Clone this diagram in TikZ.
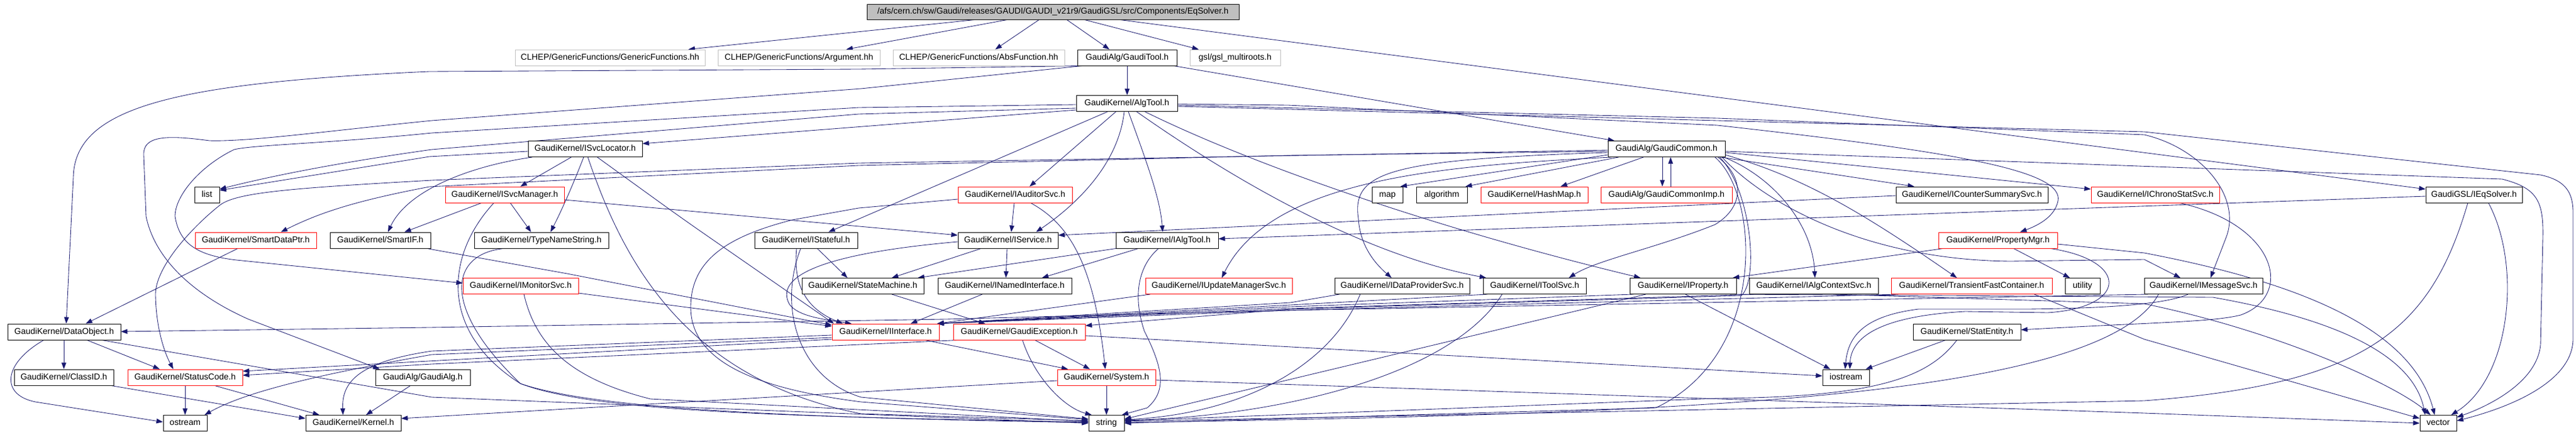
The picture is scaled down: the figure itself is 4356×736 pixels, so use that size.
\documentclass[tikz,border=0pt]{standalone}
\usepackage{fontspec}
\setmainfont{Liberation Sans}
\usetikzlibrary{arrows.meta}
\definecolor{edgec}{RGB}{25,25,112}
\definecolor{graybd}{RGB}{191,191,191}
\newcommand{\gnodefont}{\fontsize{14.4pt}{17pt}\selectfont}
\pgfdeclarelayer{bg}
\pgfsetlayers{bg,main}
\begin{document}
\begin{tikzpicture}[x=1pt,y=-1pt,
  box/.style={draw=black, fill=white, line width=0.9pt, minimum height=27pt, inner xsep=3pt, inner ysep=0pt, text height=10.5pt, text depth=3pt, font=\gnodefont},
  rbox/.style={box, draw=red},
  gbox/.style={box, draw=graybd},
  dep/.style={draw=edgec, line width=0.85pt, -{Triangle[length=11pt,width=8pt]}}]
\useasboundingbox (0,0) rectangle (4356,736);
% row 0
\node[box, fill=graybd, minimum width=629pt, minimum height=26pt] (eq) at (1780.5,20) {/afs/cern.ch/sw/Gaudi/releases/GAUDI/GAUDI\_v21r9/GaudiGSL/src/Components/EqSolver.h};
% row 1
\node[gbox, minimum width=321pt] (gf) at (1031.5,97.5) {CLHEP/GenericFunctions/GenericFunctions.hh};
\node[gbox, minimum width=274pt] (arg) at (1351,97.5) {CLHEP/GenericFunctions/Argument.hh};
\node[gbox, minimum width=290pt] (abs) at (1655,97.5) {CLHEP/GenericFunctions/AbsFunction.hh};
\node[box, minimum width=168pt] (gt) at (1906,97.5) {GaudiAlg/GaudiTool.h};
\node[gbox, minimum width=153pt] (gsl) at (2088.5,97.5) {gsl/gsl\_multiroots.h};
% row 2
\node[box, minimum width=171pt] (algt) at (1905.5,175) {GaudiKernel/AlgTool.h};
% row 3
\node[box, minimum width=193pt] (sl) at (989.5,252) {GaudiKernel/ISvcLocator.h};
\node[box, minimum width=198pt] (gc) at (2818,252) {GaudiAlg/GaudiCommon.h};
% row 4
\node[box, minimum width=42pt] (list) at (350,329.5) {list};
\node[rbox, minimum width=201pt] (sm) at (853.5,329.5) {GaudiKernel/ISvcManager.h};
\node[rbox, minimum width=193pt] (aud) at (1716.5,329.5) {GaudiKernel/IAuditorSvc.h};
\node[box, minimum width=52pt] (map) at (2346,329.5) {map};
\node[box, minimum width=86pt] (algo) at (2438,329.5) {algorithm};
\node[rbox, minimum width=181pt] (hm) at (2594.5,329.5) {GaudiKernel/HashMap.h};
\node[rbox, minimum width=222pt] (gci) at (2818,329.5) {GaudiAlg/GaudiCommonImp.h};
\node[box, minimum width=257pt] (ics) at (3334.5,329.5) {GaudiKernel/ICounterSummarySvc.h};
\node[rbox, minimum width=217pt] (chr) at (3644.5,329.5) {GaudiKernel/IChronoStatSvc.h};
\node[box, minimum width=163pt] (ieq) at (4183.5,329.5) {GaudiGSL/IEqSolver.h};
% row 5
\node[rbox, minimum width=205pt] (sdp) at (432.5,406.5) {GaudiKernel/SmartDataPtr.h};
\node[box, minimum width=170pt] (sif) at (643,406.5) {GaudiKernel/SmartIF.h};
\node[box, minimum width=227pt] (tns) at (915.5,406.5) {GaudiKernel/TypeNameString.h};
\node[box, minimum width=174pt] (ist) at (1363,406.5) {GaudiKernel/IStateful.h};
\node[box, minimum width=169pt] (isv) at (1704.5,406.5) {GaudiKernel/IService.h};
\node[box, minimum width=173pt] (iat) at (1973.5,406.5) {GaudiKernel/IAlgTool.h};
\node[rbox, minimum width=201pt] (pm) at (3378.5,406.5) {GaudiKernel/PropertyMgr.h};
% row 6
\node[rbox, minimum width=195pt] (mon) at (880.5,484) {GaudiKernel/IMonitorSvc.h};
\node[box, minimum width=206pt] (stm) at (1459,484) {GaudiKernel/StateMachine.h};
\node[box, minimum width=226pt] (nif) at (1699,484) {GaudiKernel/INamedInterface.h};
\node[rbox, minimum width=248pt] (ums) at (2061,484) {GaudiKernel/IUpdateManagerSvc.h};
\node[box, minimum width=228pt] (dps) at (2371,484) {GaudiKernel/IDataProviderSvc.h};
\node[box, minimum width=174pt] (tsv) at (2595,484) {GaudiKernel/IToolSvc.h};
\node[box, minimum width=180pt] (prop) at (2846,484) {GaudiKernel/IProperty.h};
\node[box, minimum width=218pt] (acs) at (3067,484) {GaudiKernel/IAlgContextSvc.h};
\node[rbox, minimum width=272pt] (tfc) at (3334,484) {GaudiKernel/TransientFastContainer.h};
\node[box, minimum width=59pt] (util) at (3521.5,484) {utility};
\node[box, minimum width=200pt] (msg) at (3726,484) {GaudiKernel/IMessageSvc.h};
% row 7
\node[box, minimum width=191pt] (dobj) at (108.5,561.5) {GaudiKernel/DataObject.h};
\node[rbox, minimum width=181pt] (ii) at (1497.5,561.5) {GaudiKernel/IInterface.h};
\node[rbox, minimum width=223pt] (ge) at (1723.5,561.5) {GaudiKernel/GaudiException.h};
\node[box, minimum width=182pt] (se) at (3326,561.5) {GaudiKernel/StatEntity.h};
% row 8
\node[box, minimum width=168pt] (cid) at (108,638.5) {GaudiKernel/ClassID.h};
\node[rbox, minimum width=194pt] (sc) at (313,638.5) {GaudiKernel/StatusCode.h};
\node[box, minimum width=160pt] (ga) at (715,638.5) {GaudiAlg/GaudiAlg.h};
\node[rbox, minimum width=166pt] (sys) at (1871,638.5) {GaudiKernel/System.h};
\node[box, minimum width=79pt] (ios) at (3121.5,638.5) {iostream};
% row 9
\node[box, minimum width=74pt] (ost) at (313,716) {ostream};
\node[box, minimum width=161pt] (ker) at (597.5,716) {GaudiKernel/Kernel.h};
\node[box, minimum width=60pt] (str) at (1871,716) {string};
\node[box, minimum width=62pt] (vec) at (4123,716) {vector};

\begin{pgfonlayer}{bg}
\fill[white] (0,0) rectangle (4356,736);
% EqSolver
\draw[dep] (eq.south -| 1648,0) -- (gf.north -| 1164,0);
\draw[dep] (eq.south -| 1703,0) -- (arg.north -| 1431,0);
\draw[dep] (eq.south -| 1757,0) -- (abs.north -| 1683,0);
\draw[dep] (eq.south -| 1804,0) -- (gt.north -| 1876,0);
\draw[dep] (eq.south -| 1834,0) -- (gsl.north -| 2027,0);
\draw[dep] (eq.south -| 1894,0) -- (ieq.west |- 0,320);
% GaudiTool
\draw[dep] (gt.south -| 1906,0) -- (algt.north -| 1906,0);
\draw[dep] (gt.south -| 1985,0) -- (gc.north -| 2730,0);
\draw[dep] (gt.south -| 1826,0) -- (1452,117) -- (726,121) .. controls (300,140) and (126,180) .. (124,300) -- (dobj.north -| 112,0);
\draw[dep] (gt.south -| 1830,0) -- (1456,150) -- (730,204) .. controls (550,222) and (420,240) .. (354,238) .. controls (280,228) and (242,230) .. (243,262) -- (247,366) .. controls (262,440) and (330,500) .. (420,540) -- (ga.north -| 642,0);
% AlgTool
\draw[dep] (algt.south -| 1873,0) -- (ist.north -| 1401,0);
\draw[dep] (algt.south -| 1887,0) -- (aud.north -| 1741,0);
\draw[dep] (algt.south -| 1901,0) .. controls (1890,290) and (1800,360) .. (isv.north -| 1752,0);
\draw[dep] (algt.south -| 1908,0) .. controls (1945,290) and (1962,340) .. (iat.north -| 1966,0);
\draw[dep] (algt.south -| 1922,0) .. controls (2080,300) and (2300,430) .. (tsv.north -| 2513,0);
\draw[dep] (algt.south -| 1936,0) .. controls (2100,270) and (2400,380) .. (prop.north -| 2774,0);
\draw[dep] (algt.east |- 0,176) -- (2178,178) -- (2904,212) .. controls (3320,258) and (3490,290) .. (3480,340) .. controls (3475,365) and (3450,380) .. (pm.north -| 3416,0);
\draw[dep] (algt.east |- 0,178) -- (2904,200) -- (3626,228) .. controls (3720,250) and (3790,330) .. (3765,400) -- (msg.north -| 3738,0);
\draw[dep] (algt.east |- 0,180) -- (3626,223) -- (4296,296) .. controls (4338,305) and (4351,325) .. (4351,360) -- (4351,573) .. controls (4351,640) and (4260,685) .. (vec.east |- 0,712);
\draw[dep] (algt.west |- 0,177) -- (1452,182) -- (730,225) .. controls (550,243) and (430,245) .. (396,253) .. controls (340,280) and (296,330) .. (296,366) .. controls (303,410) and (330,432) .. (400,440) -- (mon.west |- 0,479);
\draw[dep] (algt.west |- 0,183) -- (1452,193) -- (730,253) .. controls (559,277) and (450,300) .. (list.east |- 0,320);
\draw[dep] (algt.west |- 0,186) -- (sl.east |- 0,243);
% ISvcLocator
\draw[dep] (sl.west |- 0,256) -- (726,265) -- (list.east |- 0,322);
\draw[dep] (sl.south -| 966,0) -- (sm.north -| 880,0);
\draw[dep] (sl.south -| 987,0) .. controls (962,330) and (945,365) .. (tns.north -| 931,0);
\draw[dep] (sl.south -| 900,0) .. controls (800,280) and (690,320) .. (sif.north -| 656,0);
\draw[dep] (sl.south -| 994,0) .. controls (1050,430) and (1150,640) .. (1456,700) -- (str.west |- 0,712);
\draw[dep, rounded corners=40pt] (sl.south -| 1010,0) -- (1154,370) -- (ii.north -| 1410,0);
% ISvcManager
\draw[dep] (sm.south -| 814,0) -- (sif.north -| 684,0);
\draw[dep] (sm.south -| 863,0) -- (tns.north -| 898,0);
\draw[dep] (sm.east |- 0,338) -- (isv.west |- 0,398);
\draw[dep] (sm.south -| 835,0) .. controls (755,430) and (740,560) .. (880,649) .. controls (1000,695) and (1300,705) .. (str.west |- 0,714);
% IAuditorSvc
\draw[dep] (aud.south -| 1715,0) -- (isv.north -| 1710,0);
\draw[dep] (aud.west |- 0,337) -- (1452,352) -- (1340,372) .. controls (1230,400) and (1168,440) .. (1168,520) .. controls (1168,620) and (1300,660) .. (1456,680) -- (str.west |- 0,710);
\draw[dep] (aud.south -| 1743,0) .. controls (1810,380) and (1850,450) .. (sys.north -| 1869,0);
% IStateful
\draw[dep] (ist.south -| 1382,0) -- (stm.north -| 1433,0);
\draw[dep] (ist.south -| 1347,0) .. controls (1340,490) and (1370,525) .. (ii.north -| 1425,0);
\draw[dep] (ist.south -| 1354,0) .. controls (1315,520) and (1350,640) .. (1456,672) -- (str.west |- 0,709);
% IService
\draw[dep] (isv.south -| 1659,0) -- (stm.north -| 1508,0);
\draw[dep] (isv.south -| 1703,0) -- (nif.north -| 1701,0);
\draw[dep] (isv.west |- 0,409) .. controls (1380,430) and (1310,470) .. (1335,515) .. controls (1350,535) and (1390,540) .. (ii.north -| 1440,0);
% IAlgTool
\draw[dep] (iat.south -| 1887,0) -- (stm.north -| 1552,0);
\draw[dep] (iat.south -| 1925,0) -- (nif.north -| 1762,0);
\draw[dep] (iat.south -| 1959,0) .. controls (1925,450) and (1915,500) .. (1935,560) .. controls (1965,620) and (1975,660) .. (1940,690) -- (str.north -| 1897,0);
% PropertyMgr
\draw[dep] (pm.south -| 3286,0) -- (prop.north -| 2930,0);
\draw[dep] (pm.south -| 3405,0) -- (util.north -| 3500,0);
\draw[dep] (pm.east |- 0,413) -- (3626,428) .. controls (3900,480) and (4080,560) .. (vec.north -| 4117,0);
\draw[dep] (pm.south -| 3467,0) .. controls (3600,440) and (3600,520) .. (3463,529) -- (3323,527) .. controls (3180,535) and (3130,570) .. (ios.north -| 3128,0);
% GaudiCommon
\draw[dep] (gc.west |- 0,262) -- (map.north -| 2368,0);
\draw[dep] (gc.south -| 2737,0) -- (algo.north -| 2478,0);
\draw[dep] (gc.south -| 2779,0) -- (hm.north -| 2639,0);
\draw[dep] (gc.south -| 2811,0) -- (gci.north -| 2811,0);
\draw[dep] (gci.north -| 2825,0) -- (gc.south -| 2825,0);
\draw[dep] (gc.south -| 2910,0) -- (ics.north -| 3237,0);
\draw[dep] (gc.east |- 0,258) -- (chr.west |- 0,320);
\draw[dep] (gc.west |- 0,256) -- (2178,263) -- (1452,280) -- (726,316) .. controls (600,340) and (540,360) .. (sdp.north -| 475,0);
\draw[dep] (gc.west |- 0,254) -- (1452,276) -- (730,305) .. controls (500,318) and (400,325) .. (372,347) .. controls (330,380) and (262,450) .. (263,499) .. controls (264,560) and (280,600) .. (sc.north -| 293,0);
\draw[dep] (gc.west |- 0,258) .. controls (2350,270) and (2285,290) .. (2297,370) .. controls (2300,420) and (2330,450) .. (dps.north -| 2353,0);
\draw[dep] (gc.south -| 2725,0) .. controls (2450,280) and (2150,300) .. (ums.north -| 2066,0);
\draw[dep] (gc.south -| 2905,0) .. controls (2950,300) and (2950,350) .. (2900,380) .. controls (2800,420) and (2700,440) .. (tsv.north -| 2653,0);
\draw[dep] (gc.south -| 2915,0) .. controls (3000,300) and (3065,380) .. (acs.north -| 3069,0);
\draw[dep] (gc.east |- 0,262) .. controls (3050,300) and (3150,360) .. (tfc.north -| 3309,0);
\draw[dep] (gc.south -| 2912,0) .. controls (2980,340) and (3150,440) .. (3400,442) -- (3626,439) -- (msg.north -| 3687,0);
\draw[dep] (gc.south -| 2908,0) .. controls (2960,320) and (2975,470) .. (2945,500) -- (2182,523) -- (ge.east |- 0,551);
\draw[dep] (gc.south -| 2900,0) .. controls (2975,330) and (2990,600) .. (2800,690) -- (str.east |- 0,716);
\draw[dep] (gc.east |- 0,256) -- (4231,303) .. controls (4290,318) and (4301,340) .. (4300,400) -- (4296,583) .. controls (4290,650) and (4200,690) .. (vec.east |- 0,706);
% IEqSolver
\draw[dep] (ieq.west |- 0,332) -- (iat.east |- 0,404);
\draw[dep] (ieq.south -| 4208,0) .. controls (4265,450) and (4245,640) .. (vec.north -| 4145,0);
\draw[dep] (ieq.south -| 4173,0) .. controls (4110,560) and (4000,650) .. (3626,678) -- (str.east |- 0,713);
% IChronoStatSvc, ICounterSummarySvc
\draw[dep] (chr.south -| 3686,0) .. controls (3850,380) and (3880,500) .. (3789,533) .. controls (3740,545) and (3650,545) .. (se.east |- 0,558);
\draw[dep] (ics.west |- 0,331) -- (isv.east |- 0,398);
% IMonitorSvc, StateMachine, INamedInterface
\draw[dep] (mon.east |- 0,496) -- (ii.west |- 0,552);
\draw[dep] (mon.south -| 886,0) .. controls (905,580) and (960,640) .. (1100,675) -- (str.west |- 0,713);
\draw[dep] (stm.south -| 1508,0) -- (ge.north -| 1666,0);
\draw[dep] (nif.south -| 1661,0) -- (ii.north -| 1540,0);
% into IInterface from the right
\draw[dep] (ums.south -| 1945,0) -- (ii.north -| 1585,0);
\draw[dep] (dps.south -| 2265,0) -- (2182,512) -- (ii.north -| 1585,0);
\draw[dep] (tsv.south -| 2515,0) -- (2182,516) -- (ii.north -| 1585,0);
\draw[dep] (prop.south -| 2762,0) -- (2182,519) -- (ii.north -| 1585,0);
\draw[dep] (acs.south -| 2965,0) -- (2182,522) -- (ii.north -| 1585,0);
\draw[dep] (msg.south -| 3632,0) -- (2182,525) -- (ii.north -| 1585,0);
% row 6 outputs
\draw[dep] (dps.south -| 2300,0) .. controls (2250,620) and (2100,700) .. (str.east |- 0,710);
\draw[dep] (tsv.south -| 2540,0) .. controls (2450,640) and (2150,705) .. (str.east |- 0,711);
\draw[dep] (prop.south -| 2783,0) -- (str.east |- 0,709);
\draw[dep] (prop.south -| 2850,0) -- (ios.north -| 3095,0);
\draw[dep] (prop.south -| 2925,0) -- (3742,503) .. controls (3950,540) and (4080,600) .. (vec.north -| 4101,0);
\draw[dep] (acs.south -| 3100,0) -- (3626,514) .. controls (3850,560) and (4050,650) .. (vec.north -| 4110,0);
\draw[dep] (tfc.south -| 3210,0) -- (1600,540) -- (726,554) -- (dobj.east |- 0,561);
\draw[dep] (tfc.south -| 3440,0) -- (3626,574) -- (vec.west |- 0,708);
\draw[dep] (msg.south -| 3700,0) .. controls (3650,520) and (3500,522) .. (3430,523) -- (3244,523) .. controls (3150,535) and (3125,570) .. (ios.north -| 3120,0);
\draw[dep] (msg.south -| 3650,0) .. controls (3550,680) and (2800,700) .. (str.east |- 0,715);
% StatEntity
\draw[dep] (se.south -| 3290,0) -- (ios.north -| 3155,0);
\draw[dep] (se.south -| 3309,0) .. controls (3260,640) and (3170,672) .. (2904,674) -- (str.east |- 0,712);
% DataObject
\draw[dep] (dobj.south -| 108,0) -- (cid.north -| 108,0);
\draw[dep] (dobj.south -| 147,0) -- (sc.north -| 270,0);
\draw[dep] (dobj.south -| 74,0) .. controls (5,615) and (0,668) .. (60,680) -- (ost.west |- 0,714);
\draw[dep] (dobj.south -| 172,0) -- (730,672) -- (str.west |- 0,716);
% IInterface
\draw[dep] (ii.south -| 1564,0) -- (sys.north -| 1806,0);
\draw[dep] (ii.west |- 0,567) -- (730,594) .. controls (600,613) and (578,650) .. (ker.north -| 580,0);
\draw[dep] (ii.west |- 0,571) -- (730,600) .. controls (560,630) and (420,660) .. (ost.north -| 346,0);
\draw[dep] (ii.west |- 0,574) -- (sc.east |- 0,628);
% GaudiException
\draw[dep] (ge.south -| 1620,0) -- (730,616) -- (sc.east |- 0,635);
\draw[dep] (ge.south -| 1729,0) .. controls (1750,640) and (1800,690) .. (str.north -| 1846,0);
\draw[dep] (ge.south -| 1750,0) -- (sys.north -| 1843,0);
\draw[dep] (ge.east |- 0,568) -- (ios.west |- 0,636);
% System
\draw[dep] (sys.south -| 1871,0) -- (str.north -| 1871,0);
\draw[dep] (sys.west |- 0,644) -- (ker.east |- 0,708);
\draw[dep] (sys.east |- 0,643) -- (3626,699) -- (vec.west |- 0,716);
% StatusCode, ClassID, GaudiAlg
\draw[dep] (sc.south -| 313,0) -- (ost.north -| 313,0);
\draw[dep] (sc.south -| 363,0) -- (ker.north -| 540,0);
\draw[dep] (cid.south -| 188,0) -- (ker.west |- 0,708);
\draw[dep] (ga.south -| 694,0) -- (ker.north -| 619,0);
% TypeNameString, SmartIF, SmartDataPtr
\draw[dep] (tns.south -| 852,0) .. controls (760,430) and (745,520) .. (880,649) .. controls (1000,690) and (1300,706) .. (str.west |- 0,715);
\draw[dep] (sif.south -| 722,0) -- (959,463) -- (ii.west |- 0,550);
\draw[dep] (sdp.south -| 402,0) -- (dobj.north -| 145,0);
\end{pgfonlayer}
\end{tikzpicture}
\end{document}
